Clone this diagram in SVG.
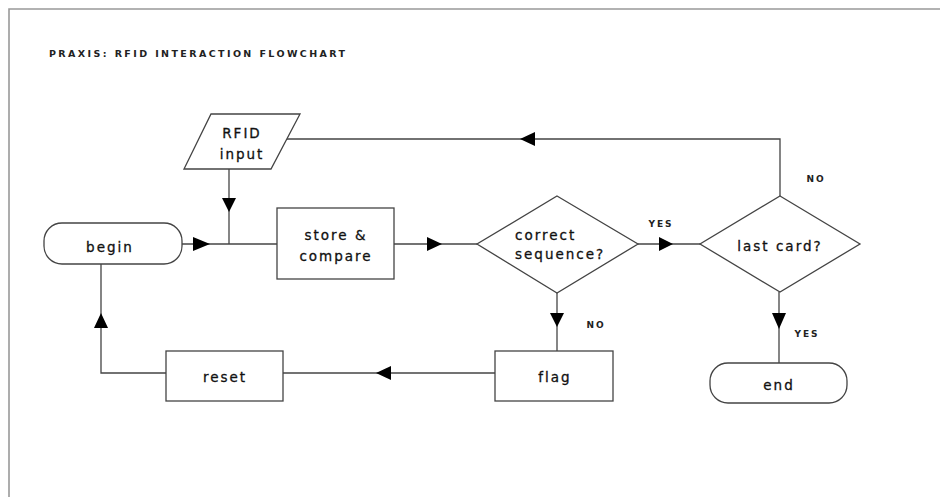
<svg xmlns="http://www.w3.org/2000/svg" width="940" height="497" viewBox="0 0 940 497">
<defs>
<style>
.shape{fill:#fff;stroke:#444;stroke-width:1.3}
.line{fill:none;stroke:#444;stroke-width:1.3}
.arr{fill:#000}
.t{font-family:"DejaVu Sans",sans-serif;font-size:13.5px;letter-spacing:2px;fill:#111;stroke:#111;stroke-width:0.3;text-anchor:middle}
.lab{font-family:"DejaVu Sans",sans-serif;font-size:9px;font-weight:bold;letter-spacing:2px;fill:#222;text-anchor:middle}
.title{font-family:"DejaVu Sans",sans-serif;font-size:9.5px;font-weight:bold;letter-spacing:2.4px;fill:#222}
</style>
</defs>
<rect width="940" height="497" fill="#fff"/>
<path d="M9,497 V9 H940" fill="none" stroke="#999" stroke-width="1.6"/>
<text class="title" x="49" y="57">PRAXIS: RFID INTERACTION FLOWCHART</text>

<g id="connectors">
<path class="line" d="M182,244 H277"/>
<path class="line" d="M229,169 V244"/>
<path class="line" d="M394,244 H477"/>
<path class="line" d="M638,244 H700"/>
<path class="line" d="M780,196 V139 H287"/>
<path class="line" d="M557,293 V351"/>
<path class="line" d="M779,292 V363"/>
<path class="line" d="M495,373 H283"/>
<path class="line" d="M166,373 H101 V264"/>
<polygon class="arr" points="193,237 210,244 193,251"/>
<polygon class="arr" points="222,198 236,198 229,212"/>
<polygon class="arr" points="427,237 442,244 427,251"/>
<polygon class="arr" points="659,237 673,244 659,251"/>
<polygon class="arr" points="535,132 520,139 535,146"/>
<polygon class="arr" points="550,313 564,313 557,327"/>
<polygon class="arr" points="772,313 786,313 779,329"/>
<polygon class="arr" points="391,366 376,373 391,380"/>
<polygon class="arr" points="94,328 108,328 101,313"/>
<text class="lab" x="661" y="227">YES</text>
<text class="lab" x="816" y="182">NO</text>
<text class="lab" x="596" y="328">NO</text>
<text class="lab" x="807" y="337">YES</text>
</g>

<g id="rfid-input">
<polygon class="shape" points="211,114 300,114 271,169 184,169"/>
<text class="t" x="242" y="138">RFID</text>
<text class="t" x="242" y="159">input</text>
</g>
<g id="begin">
<rect class="shape" x="44" y="223" width="138" height="41" rx="18"/>
<text class="t" x="110" y="252">begin</text>
</g>
<g id="store-compare">
<rect class="shape" x="277" y="208" width="117" height="71"/>
<text class="t" x="336" y="240">store &amp;</text>
<text class="t" x="336" y="261">compare</text>
</g>
<g id="correct-sequence">
<polygon class="shape" points="557,196 638,244 557,293 477,244"/>
<text class="t" x="515" y="240" style="text-anchor:start">correct</text>
<text class="t" x="515" y="259" style="text-anchor:start">sequence?</text>
</g>
<g id="last-card">
<polygon class="shape" points="780,196 860,244 780,292 700,244"/>
<text class="t" x="780" y="251">last card?</text>
</g>
<g id="end">
<rect class="shape" x="710" y="363" width="137" height="40" rx="18"/>
<text class="t" x="779" y="390">end</text>
</g>
<g id="flag">
<rect class="shape" x="495" y="351" width="118" height="50"/>
<text class="t" x="555" y="382">flag</text>
</g>
<g id="reset">
<rect class="shape" x="166" y="351" width="117" height="50"/>
<text class="t" x="225" y="382">reset</text>
</g>
</svg>
